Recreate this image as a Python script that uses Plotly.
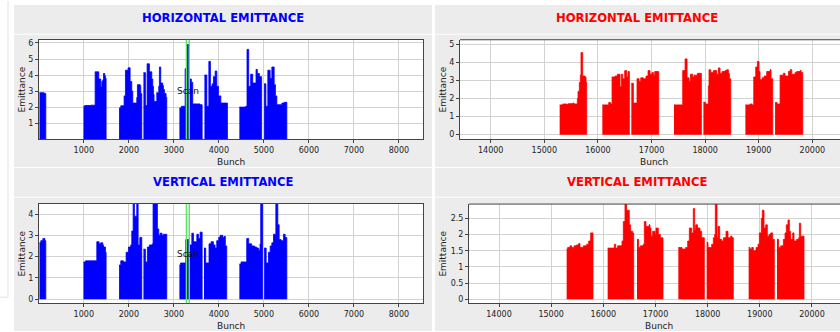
import plotly.graph_objects as go

# ---------------- DATA ----------------
# Horizontal emittance, low bunch range (blue): per-train segment edges (bunch) and values
hl_edges = [
    [16, 120, 156],
    [993, 1020, 1160, 1252, 1333, 1377, 1400, 1422, 1437, 1466, 1481, 1496],
    [1784, 1821, 1895, 1925, 1984, 2029, 2066, 2088, 2177, 2191, 2251, 2265, 2288],
    [2325, 2369, 2406, 2458, 2510, 2532, 2547, 2561, 2621, 2665, 2680, 2709, 2754, 2769, 2791, 2828, 2843],
    [3124, 3168, 3251, 3289, 3335, 3355, 3390, 3420, 3580, 3629],
    [3680, 3733, 3778, 3813, 3851, 3880, 3918, 3955, 3991, 4044, 4191],
    [4456, 4596, 4626, 4663, 4707, 4752, 4826, 4855, 4900, 4950],
    [5005, 5045, 5088, 5140, 5177, 5229, 5257, 5288, 5400, 5450, 5510],
]
hl_vals = [
    [2.9, 2.85],
    [2.05, 2.1, 2.12, 4.2, 3.75, 3.25, 3.6, 3.7, 4.1, 3.95, 3.8],
    [1.95, 2.08, 2.7, 4.3, 4.45, 3.6, 3.0, 2.25, 2.6, 3.4, 3.35, 2.85],
    [4.15, 2.1, 4.7, 4.2, 3.75, 3.3, 2.8, 2.35, 2.9, 3.3, 4.5, 3.5, 3.35, 3.1, 2.85, 2.6],
    [1.95, 2.05, 4.4, 5.9, 3.55, 3.75, 3.55, 2.2, 2.15],
    [4.0, 2.05, 4.85, 3.3, 3.45, 3.9, 4.25, 3.3, 2.7, 2.25],
    [2.0, 2.05, 5.6, 3.3, 4.05, 3.5, 4.35, 4.1, 3.9],
    [3.45, 2.05, 4.3, 3.8, 4.5, 3.4, 2.7, 2.15, 2.25, 2.3],
]

# Vertical emittance, low bunch range (blue)
vl_edges = [
    [16, 45, 90, 135, 156],
    [993, 1037, 1289, 1340, 1377, 1422, 1437, 1481, 1496],
    [1784, 1821, 1881, 1940, 1992, 2043, 2066, 2096, 2125, 2177, 2207, 2244, 2288],
    [2325, 2369, 2413, 2458, 2524, 2539, 2635, 2665, 2695, 2739, 2769, 2843],
    [3124, 3150, 3265, 3347, 3400, 3436, 3511, 3547, 3584, 3629],
    [3671, 3708, 3782, 3827, 3879, 3916, 3953, 3997, 4027, 4086, 4115, 4145, 4175],
    [4456, 4493, 4619, 4663, 4730, 4796, 4841, 4885, 4915, 4930, 4970],
    [5006, 5051, 5103, 5140, 5177, 5214, 5266, 5310, 5340, 5384, 5436, 5473, 5510],
]
vl_vals = [
    [2.65, 2.75, 2.85, 2.75],
    [1.75, 1.8, 2.7, 2.6, 2.65, 2.55, 2.45, 2.2],
    [1.6, 1.8, 1.75, 2.2, 2.45, 2.55, 3.2, 4.8, 3.9, 4.8, 2.55, 2.9],
    [2.35, 1.75, 2.45, 2.55, 2.6, 4.8, 3.3, 3.0, 3.1, 3.0, 3.05],
    [1.6, 1.7, 2.8, 2.55, 3.1, 2.7, 3.05, 2.85, 3.15],
    [2.4, 1.7, 2.6, 2.7, 2.55, 2.4, 2.75, 2.9, 3.0, 2.9, 2.95, 2.5],
    [1.65, 1.75, 2.85, 2.6, 2.5, 2.45, 2.4, 2.3, 2.6, 4.8],
    [2.4, 1.7, 2.2, 2.5, 2.65, 3.05, 4.8, 3.5, 2.8, 2.75, 3.05, 2.9],
]

# Horizontal emittance, high bunch range (red)
hr_edges = [
    [15287, 15343, 15418, 15449, 15530, 15555, 15617, 15629, 15654, 15673, 15685, 15716, 15760, 15779, 15791],
    [16083, 16201, 16239, 16264, 16320, 16363, 16413, 16438, 16463, 16500, 16538, 16562, 16587],
    [16624, 16662, 16730, 16767, 16799, 16848, 16898, 16935, 16973, 17010, 17035, 17060, 17134],
    [17420, 17582, 17626, 17663, 17700, 17725, 17769, 17794, 17856, 17930],
    [17968, 18005, 18061, 18073, 18105, 18154, 18216, 18248, 18279, 18316, 18372, 18403, 18434, 18453, 18478],
    [18751, 18838, 18876, 18907, 18944, 18975, 19006, 19025, 19062, 19100, 19149, 19212, 19230, 19261],
    [19305, 19342, 19398, 19460, 19491, 19554, 19585, 19616, 19678, 19709, 19771, 19790, 19821],
]
hr_vals = [
    [1.65, 1.7, 1.68, 1.72, 1.75, 1.7, 2.0, 2.4, 2.9, 3.3, 4.55, 3.25, 3.2, 2.9],
    [1.65, 1.78, 1.7, 3.2, 3.25, 3.35, 2.65, 3.35, 3.1, 3.55, 3.2, 3.5],
    [2.85, 1.75, 3.1, 2.95, 3.15, 3.1, 3.25, 3.55, 3.35, 3.45, 3.3, 3.5],
    [1.65, 3.55, 4.2, 3.15, 2.95, 3.35, 3.2, 3.3, 3.4],
    [1.8, 1.7, 2.7, 3.6, 3.45, 3.55, 3.35, 3.7, 3.4, 3.5, 3.55, 3.6, 3.4, 3.1],
    [1.65, 1.7, 1.65, 3.2, 3.75, 4.05, 3.5, 3.05, 3.15, 3.25, 3.5, 3.6, 3.1],
    [1.78, 1.7, 3.3, 3.4, 3.25, 3.5, 3.6, 3.35, 3.45, 3.5, 3.55, 3.45],
]

# Vertical emittance, high bunch range (red)
vr_edges = [
    [15297, 15316, 15361, 15393, 15425, 15438, 15489, 15527, 15553, 15617, 15681, 15719, 15757, 15802],
    [16083, 16211, 16237, 16275, 16358, 16383, 16415, 16447, 16498, 16524, 16562, 16582],
    [16646, 16677, 16709, 16767, 16786, 16818, 16876, 16895, 16914, 16946, 16991, 17010, 17054, 17093, 17144],
    [17438, 17508, 17578, 17617, 17649, 17694, 17725, 17751, 17770, 17808, 17853, 17885, 17936],
    [17981, 18007, 18077, 18109, 18134, 18147, 18179, 18198, 18230, 18269, 18301, 18352, 18390, 18441, 18467, 18492],
    [18786, 18812, 18844, 18876, 18927, 18965, 18991, 19029, 19048, 19080, 19112, 19144, 19176, 19208, 19246, 19278],
    [19329, 19361, 19400, 19451, 19483, 19508, 19540, 19566, 19591, 19630, 19655, 19706, 19745, 19758, 19783, 19847],
]
vr_vals = [
    [1.55, 1.6, 1.65, 1.6, 1.55, 1.65, 1.68, 1.72, 1.6, 1.65, 1.7, 1.8, 2.05],
    [1.58, 1.7, 1.58, 1.65, 1.8, 2.4, 3.0, 2.75, 2.3, 2.1, 2.05],
    [1.85, 1.6, 1.65, 1.7, 2.4, 2.25, 2.3, 2.2, 1.95, 2.1, 2.0, 2.2, 2.0, 1.9],
    [1.6, 1.55, 1.6, 1.8, 2.2, 2.05, 2.8, 2.15, 2.3, 2.2, 2.1, 1.9],
    [1.75, 1.6, 1.7, 1.9, 2.0, 3.0, 1.9, 2.25, 1.85, 1.8, 1.9, 2.1, 1.9, 1.95, 1.9],
    [1.6, 1.55, 1.6, 1.5, 1.6, 1.7, 2.05, 2.5, 2.75, 2.2, 2.3, 1.95, 2.0, 2.05, 1.85],
    [1.85, 1.6, 1.65, 1.85, 2.05, 2.3, 2.45, 2.1, 1.85, 2.05, 1.8, 1.85, 1.9, 2.35, 1.95],
]

scan_bunches = [3280, 3343]
scan_label_x = 3322
left_xticks = [1000, 2000, 3000, 4000, 5000, 6000, 7000, 8000]
right_xticks = [14000, 15000, 16000, 17000, 18000, 19000, 20000]
hl_yticks = [1, 2, 3, 4, 5, 6]
vl_yticks = [0, 1, 2, 3, 4]
hr_yticks = [0, 1, 2, 3, 4, 5]
vr_yticks = [0, 0.5, 1, 1.5, 2, 2.5]
vr_yticktext = ["0", "0.5", "1", "1.5", "2", "2.5"]

# ---------------- FIGURE ----------------
W, H = 840, 332
FONT = "DejaVu Sans"
BLUE, RED = "#0000ff", "#ff0000"
PANEL = "#ececec"


def px_x(p):
    return p / W


def px_y(p):
    return 1 - p / H


# plot areas in pixel coords: (left, right, top, bottom)
areas = {
    1: (39, 423, 39, 139),
    2: (460, 840, 39, 139),
    3: (39, 423, 204.3, 304),
    4: (469, 840, 204.3, 304),
}
xranges = {1: [5, 8535], 2: [13428, 20516], 3: [5, 8535], 4: [13425, 20537]}
yranges = {1: [0, 6.2], 2: [-0.25, 5.26], 3: [-0.19, 4.47], 4: [-0.12, 2.94]}
xticks = {1: left_xticks, 2: right_xticks, 3: left_xticks, 4: right_xticks}
yticks = {1: (hl_yticks, [str(v) for v in hl_yticks]),
          2: (hr_yticks, [str(v) for v in hr_yticks]),
          3: (vl_yticks, [str(v) for v in vl_yticks]),
          4: (vr_yticks, vr_yticktext)}
datasets = {1: (hl_edges, hl_vals, BLUE), 2: (hr_edges, hr_vals, RED),
            3: (vl_edges, vl_vals, BLUE), 4: (vr_edges, vr_vals, RED)}

fig = go.Figure()
layout = dict(width=W, height=H, margin=dict(l=0, r=0, t=0, b=0),
              paper_bgcolor="white", plot_bgcolor="white", showlegend=False)
shapes = []
annotations = []

# background panels
for (x0, x1, y0, y1) in [(14, 432, 4, 33), (14, 432, 34, 167), (14, 432, 168, 197), (14, 432, 198, 332),
                         (435, 840, 4, 33), (435, 840, 34, 167), (435, 840, 168, 197), (435, 840, 198, 332)]:
    shapes.append(dict(type="rect", xref="paper", yref="paper", x0=px_x(x0), x1=px_x(x1),
                       y0=px_y(y1), y1=px_y(y0), fillcolor=PANEL, line=dict(width=0), layer="below"))
shapes.append(dict(type="line", xref="paper", yref="paper", x0=px_x(8), x1=px_x(8), y0=px_y(298), y1=1,
                   line=dict(color="#e2e2e2", width=1), layer="below"))
shapes.append(dict(type="line", xref="paper", yref="paper", x0=0, x1=px_x(8), y0=px_y(298), y1=px_y(298),
                   line=dict(color="#e2e2e2", width=1), layer="below"))

for k in range(1, 5):
    l, r, t, b = areas[k]
    shapes.append(dict(type="rect", xref="paper", yref="paper", x0=px_x(l), x1=px_x(r),
                       y0=px_y(b), y1=px_y(t), fillcolor="white", line=dict(width=0), layer="below"))
    edges, vals, col = datasets[k]
    sx = "" if k == 1 else str(k)
    # one filled step trace per bunch train
    for e, v in zip(edges, vals):
        fig.add_trace(go.Scatter(x=e, y=list(v) + [v[-1]], mode="lines", line_shape="hv",
                                 line=dict(color=col, width=0.8), fill="tozeroy", fillcolor=col,
                                 xaxis="x" + sx, yaxis="y" + sx, hoverinfo="skip"))
        # close the step at the right edge down to zero
        fig.add_trace(go.Scatter(x=[e[-1], e[-1]], y=[0, v[-1]], mode="lines",
                                 line=dict(color=col, width=0.8),
                                 xaxis="x" + sx, yaxis="y" + sx, hoverinfo="skip"))
    left_panel = k in (1, 3)
    layout["xaxis" + sx] = dict(domain=[px_x(l), px_x(r)], range=xranges[k], anchor="y" + sx,
                                tickvals=xticks[k], ticktext=[str(v) for v in xticks[k]],
                                showgrid=True, gridcolor="#d2d2d2", gridwidth=1, zeroline=False,
                                showline=True, linecolor="#444444", linewidth=1,
                                mirror=True if left_panel else False,
                                ticks="outside", ticklen=3, tickcolor="#444444",
                                tickfont=dict(family=FONT, size=8, color="#222222"))
    layout["yaxis" + sx] = dict(domain=[px_y(b), px_y(t)], range=yranges[k], anchor="x" + sx,
                                tickvals=yticks[k][0], ticktext=yticks[k][1],
                                showgrid=True, gridcolor="#d2d2d2", gridwidth=1, zeroline=False,
                                showline=True, linecolor="#444444", linewidth=1,
                                mirror=True if left_panel else False,
                                ticks="outside", ticklen=3, tickcolor="#444444",
                                tickfont=dict(family=FONT, size=8, color="#222222"))
    if not left_panel:
        shapes.append(dict(type="line", xref="paper", yref="paper", x0=px_x(l), x1=1,
                           y0=px_y(t), y1=px_y(t), line=dict(color="#444444", width=1), layer="above"))
    # axis titles
    annotations.append(dict(text="Emittance", xref="paper", yref="paper",
                            x=px_x(22 if left_panel else 443), y=px_y((t + b) / 2), textangle=-90,
                            showarrow=False, xanchor="center", yanchor="middle",
                            font=dict(family=FONT, size=9, color="#222222")))
    bx = (l + r) / 2 if left_panel else (l + 848) / 2
    annotations.append(dict(text="Bunch", xref="paper", yref="paper",
                            x=px_x(bx), y=px_y(b + 23), showarrow=False,
                            xanchor="center", yanchor="middle",
                            font=dict(family=FONT, size=9, color="#222222")))
    if left_panel:
        for sb in scan_bunches:
            shapes.append(dict(type="line", xref="x" + sx, yref="y" + sx + " domain",
                               x0=sb, x1=sb, y0=0, y1=1,
                               line=dict(color="#66e066", width=1.5), layer="above"))
        annotations.append(dict(text="Scan", xref="x" + sx, yref="y" + sx,
                                x=scan_label_x, y=3.0 if k == 1 else 2.1, showarrow=False,
                                xanchor="center", yanchor="middle",
                                font=dict(family=FONT, size=9, color="#111111")))

# titles
for text, cx, cy, col in [("HORIZONTAL EMITTANCE", 223, 17.5, BLUE), ("HORIZONTAL EMITTANCE", 637, 17.5, RED),
                          ("VERTICAL EMITTANCE", 223, 182.5, BLUE), ("VERTICAL EMITTANCE", 637, 182.5, RED)]:
    annotations.append(dict(text="<b>" + text + "</b>", xref="paper", yref="paper",
                            x=px_x(cx), y=px_y(cy), showarrow=False, xanchor="center", yanchor="middle",
                            font=dict(family=FONT, size=11.6, color=col)))

layout["shapes"] = shapes
layout["annotations"] = annotations
fig.update_layout(**layout)
fig.write_html("out.html")
